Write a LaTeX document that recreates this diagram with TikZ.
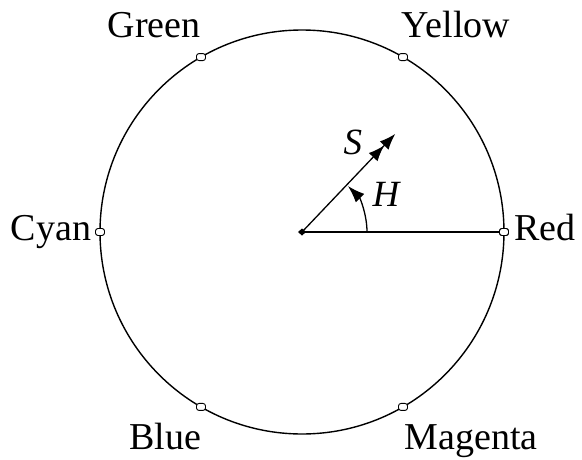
\documentclass[tikz,border=0pt]{standalone}
\usepackage{fontspec}
\setmainfont{Liberation Serif}
\usetikzlibrary{arrows.meta}
\begin{document}
\begin{tikzpicture}[x=1pt,y=1pt,
  marker/.style={draw,fill=white,line width=0.9pt,rounded corners=2.5pt,minimum width=9pt,minimum height=7pt,inner sep=0pt},
  lbl/.style={font=\fontsize{38}{42}\selectfont,inner sep=0pt,anchor=base},
  mlbl/.style={font=\fontsize{37}{42}\selectfont\itshape,inner sep=0pt}]
\useasboundingbox (-302,-227) rectangle (280,232);
\coordinate (O) at (0,0);
\draw[line width=1.4pt] (O) circle (202);
\coordinate (Send) at (96,101);
% red axis
\node[marker] (mR) at (0:202) {};
\draw[line width=1.8pt] (O) -- (mR.west);
% S vector
\draw[line width=1.3pt,-{Latex[length=16pt,width=12pt] Latex[length=16pt,width=12pt,sep=4pt]}] (O) -- (Send);
% H arc
\draw[line width=1.3pt,-{Latex[length=17pt,width=12pt]}] (65,0) arc[start angle=0,end angle=45,radius=65];
\fill (O) ++(-4,0) -- ++(4,3.5) -- ++(4,-3.5) -- ++(-4,-3.5) -- cycle;
% markers
\node[marker] (mY) at (60:202) {};
\node[marker] (mG) at (120:202) {};
\node[marker] (mC) at (180:202) {};
\node[marker] (mB) at (240:202) {};
\node[marker] (mM) at (300:202) {};
\node[marker] at (0:202) {};
% labels
\node[lbl] (tG) at (-148,195) {Green};
\node[lbl] (tY) at (154,195) {Yellow};
\node[lbl] (tC) at (-251,-8) {Cyan};
\node[lbl] (tR) at (243,-8) {Red};
\node[lbl] (tB) at (-137,-217) {Blue};
\node[lbl] (tM) at (169,-217) {Magenta};
\node[mlbl] (tS) at (51,90) {S};
\node[mlbl] (tH) at (84,38) {H};
\end{tikzpicture}
\end{document}
